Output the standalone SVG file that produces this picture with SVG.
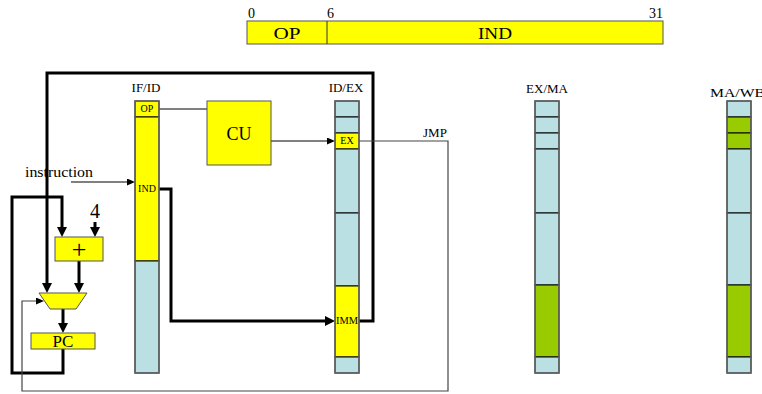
<svg xmlns="http://www.w3.org/2000/svg" width="762" height="394" viewBox="0 0 762 394">
<style>
text{font-family:"Liberation Serif","Times New Roman",serif;fill:#000}
.y{fill:#FFFF00}
.b{fill:#BBE0E3}
.g{fill:#99CC00}
.sec{stroke:#000;stroke-width:1}
.outer{fill:none;stroke:#666;stroke-width:1.5}
.box{fill:#FFFF00;stroke:#555;stroke-width:1}
.thick{fill:none;stroke:#000;stroke-width:3}
.thin{fill:none;stroke:#000;stroke-width:1}
.gray{fill:none;stroke:#444;stroke-width:1.2}
.lab{font-size:13px}
.sm{font-size:10px}
</style>
<defs>
<marker id="ah" markerUnits="userSpaceOnUse" markerWidth="10" markerHeight="10" refX="4" refY="5" orient="auto"><path d="M0,0 L10,5 L0,10 z" fill="#000"/></marker>
<marker id="as" markerUnits="userSpaceOnUse" markerWidth="8" markerHeight="7" refX="2" refY="3.5" orient="auto"><path d="M0,0 L8,3.5 L0,7 z" fill="#000"/></marker>
</defs>

<g id="format">
<rect x="247" y="21" width="416" height="23" class="box"/>
<line x1="327" y1="21" x2="327" y2="44" stroke="#333" stroke-width="1"/>
<text x="248" y="18" font-size="14">0</text>
<text x="327" y="18" font-size="14">6</text>
<text x="663" y="18" font-size="14" text-anchor="end">31</text>
<text x="287" y="39" font-size="16" text-anchor="middle" textLength="27" lengthAdjust="spacingAndGlyphs">OP</text>
<text x="495" y="39" font-size="16" text-anchor="middle" textLength="34" lengthAdjust="spacingAndGlyphs">IND</text>
</g>

<g id="connectors">
<path class="thick" d="M359,321 H373 V73 H47 V287" marker-end="url(#ah)"/>
<path class="thick" d="M159,189 H171 V321 H329" marker-end="url(#ah)"/>
<path class="thick" d="M63,349 V373 H12 V197 H62 V231" marker-end="url(#ah)"/>
<path class="thick" d="M95,222 V231" marker-end="url(#ah)"/>
<path class="thick" d="M79,261 V287" marker-end="url(#ah)"/>
<path class="thick" d="M63,309 V327" marker-end="url(#ah)"/>
<path class="thin" d="M159,109 H207"/>
<path class="thin" d="M271,141 H329" marker-end="url(#as)"/>
<path class="thin" d="M71,182 H129" marker-end="url(#as)"/>
<path class="gray" d="M359,141 H448 V391 H22 V301 H38" marker-end="url(#as)"/>
</g>

<g id="ifid">
<text x="146" y="92" class="lab" text-anchor="middle">IF/ID</text>
<rect x="135" y="101" width="24" height="16" class="y sec"/>
<rect x="135" y="117" width="24" height="144" class="y sec"/>
<rect x="135" y="261" width="24" height="112" class="b sec"/>
<rect x="135" y="101" width="24" height="272" class="outer"/>
<text x="147" y="112" class="sm" text-anchor="middle">OP</text>
<text x="147" y="192" class="sm" text-anchor="middle">IND</text>
</g>

<g id="idex">
<text x="346" y="92" class="lab" text-anchor="middle">ID/EX</text>
<rect x="335" y="101" width="24" height="16" class="b sec"/>
<rect x="335" y="117" width="24" height="16" class="b sec"/>
<rect x="335" y="133" width="24" height="16" class="y sec"/>
<rect x="335" y="149" width="24" height="64" class="b sec"/>
<rect x="335" y="213" width="24" height="73" class="b sec"/>
<rect x="335" y="286" width="24" height="71" class="y sec"/>
<rect x="335" y="357" width="24" height="16" class="b sec"/>
<rect x="335" y="101" width="24" height="272" class="outer"/>
<text x="347" y="144" class="sm" text-anchor="middle">EX</text>
<text x="347" y="324" class="sm" text-anchor="middle" textLength="22" lengthAdjust="spacingAndGlyphs">IMM</text>
</g>

<g id="exma">
<text x="547" y="93" class="lab" text-anchor="middle">EX/MA</text>
<rect x="535" y="101" width="24" height="16" class="b sec"/>
<rect x="535" y="117" width="24" height="16" class="b sec"/>
<rect x="535" y="133" width="24" height="16" class="b sec"/>
<rect x="535" y="149" width="24" height="64" class="b sec"/>
<rect x="535" y="213" width="24" height="72" class="b sec"/>
<rect x="535" y="285" width="24" height="72" class="g sec"/>
<rect x="535" y="357" width="24" height="16" class="b sec"/>
<rect x="535" y="101" width="24" height="272" class="outer"/>
</g>

<g id="mawb">
<text x="710" y="97" font-size="13" textLength="55" lengthAdjust="spacingAndGlyphs">MA/WB</text>
<rect x="727" y="101" width="24" height="16" class="b sec"/>
<rect x="727" y="117" width="24" height="16" class="g sec"/>
<rect x="727" y="133" width="24" height="16" class="g sec"/>
<rect x="727" y="149" width="24" height="64" class="b sec"/>
<rect x="727" y="213" width="24" height="72" class="b sec"/>
<rect x="727" y="285" width="24" height="72" class="g sec"/>
<rect x="727" y="357" width="24" height="16" class="b sec"/>
<rect x="727" y="101" width="24" height="272" class="outer"/>
</g>

<g id="cu">
<rect x="207" y="101" width="64" height="64" class="box"/>
<text x="239" y="140" font-size="18" text-anchor="middle">CU</text>
</g>

<g id="adder">
<rect x="55" y="237" width="48" height="24" class="box"/>
<text x="79" y="258" font-size="26" text-anchor="middle">+</text>
</g>

<g id="four">
<text x="95" y="218" font-size="20" text-anchor="middle">4</text>
</g>

<g id="mux">
<polygon points="39,293 87,293 76,309 50,309" class="box"/>
</g>

<g id="pc">
<rect x="31" y="333" width="64" height="16" class="box"/>
<text x="63" y="347" font-size="17" text-anchor="middle">PC</text>
</g>

<g id="labels">
<text x="25" y="177" font-size="15" textLength="68" lengthAdjust="spacingAndGlyphs">instruction</text>
<text x="435" y="137" class="lab" text-anchor="middle">JMP</text>
</g>
</svg>
